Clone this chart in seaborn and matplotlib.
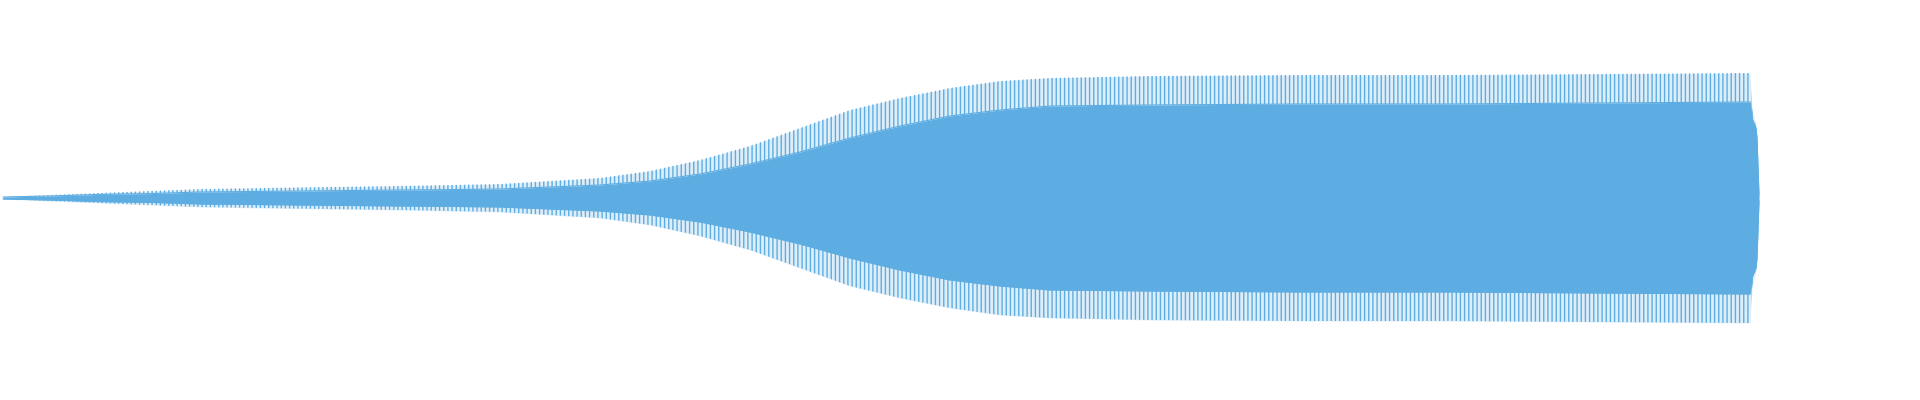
import matplotlib
matplotlib.use("Agg")
import matplotlib.pyplot as plt
import seaborn as sns
import numpy as np
import pandas as pd

# Waveform envelope (x in pixel columns, amplitude as fraction of half height)
pos = [3, 50, 100, 150, 200, 300, 400, 450, 500, 550, 600, 650, 700, 750, 800, 850,
       900, 950, 1000, 1050, 1150, 1300, 1450, 1600, 1750, 1752, 1756, 1757, 1759]
peak = [0.005, 0.015, 0.025, 0.035, 0.045, 0.053, 0.06, 0.065, 0.07, 0.085, 0.10, 0.135,
        0.19, 0.26, 0.35, 0.44, 0.50, 0.55, 0.585, 0.60, 0.61, 0.615, 0.615, 0.62, 0.625,
        0.45, 0.36, 0.30, 0.015]
typical = [0.005, 0.01, 0.018, 0.022, 0.03, 0.035, 0.04, 0.042, 0.045, 0.055, 0.065, 0.085,
           0.12, 0.17, 0.23, 0.30, 0.36, 0.41, 0.44, 0.46, 0.465, 0.47, 0.47, 0.475, 0.48,
           0.40, 0.35, 0.30, 0.015]

COLOR = "#5DADE2"

sns.set_theme(style="white")
plt.rcParams["hatch.linewidth"] = 1.0
plt.rcParams["hatch.color"] = COLOR

df = pd.DataFrame({"pos": pos, "peak": peak, "typical": typical})
df["low"] = -df["typical"]
x = df["pos"].to_numpy()
pk = df["peak"].to_numpy()
ty = df["typical"].to_numpy()

fig = plt.figure(figsize=(19.2, 4.0), dpi=100)
ax = fig.add_axes([0, 0, 1, 1])

# solid body of the waveform
ax.fill_between(x, -ty, ty, color=COLOR, linewidth=0)
sns.lineplot(data=df, x="pos", y="typical", ax=ax, color=COLOR, linewidth=0.8)
sns.lineplot(data=df, x="pos", y="low", ax=ax, color=COLOR, linewidth=0.8)
# spiky fringe
ax.fill_between(x, ty, pk, facecolor=COLOR, alpha=0.2, linewidth=0)
ax.fill_between(x, -pk, -ty, facecolor=COLOR, alpha=0.2, linewidth=0)
ax.fill_between(x, ty, pk, facecolor="none", edgecolor=COLOR, hatch="||||", linewidth=0)
ax.fill_between(x, -pk, -ty, facecolor="none", edgecolor=COLOR, hatch="||||", linewidth=0)

ax.set_xlim(0, 1920)
ax.set_ylim(-1.01, 0.99)
ax.set_axis_off()
fig.savefig("out.png", dpi=100, facecolor="white")
